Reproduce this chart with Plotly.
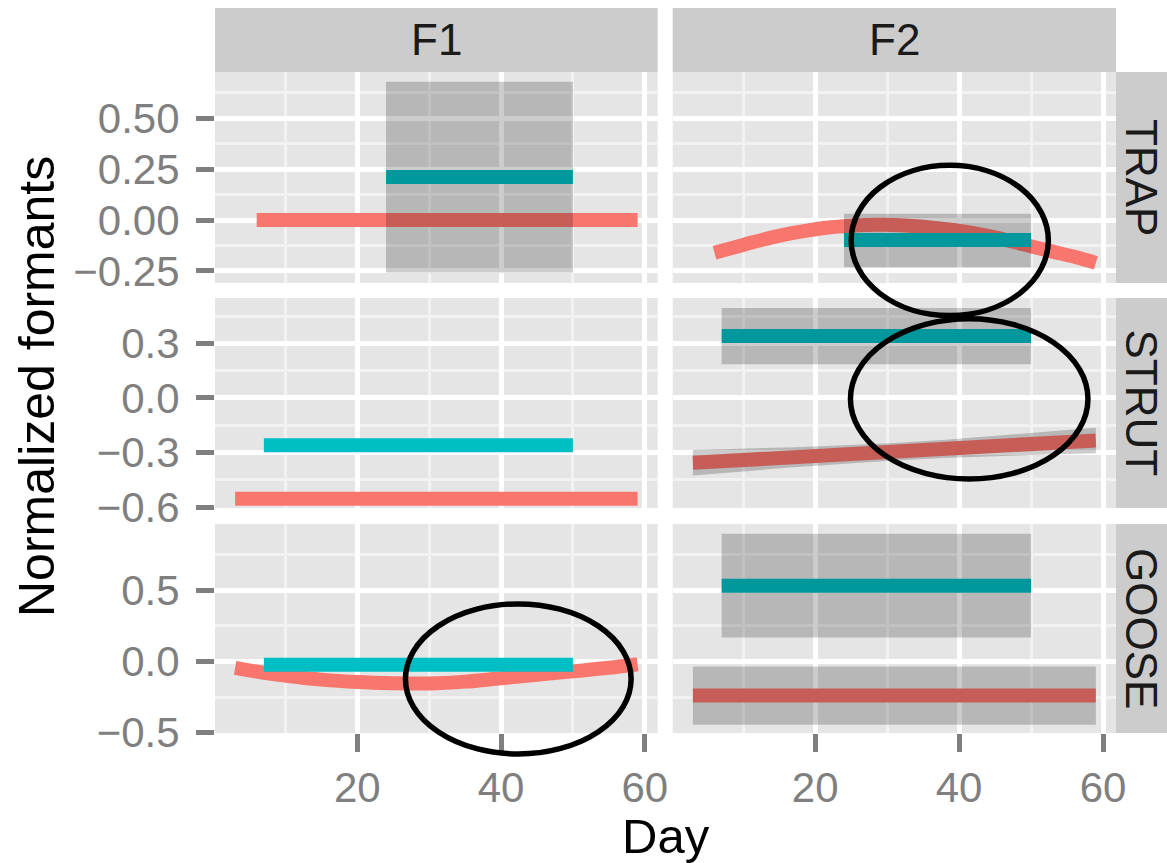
import plotly.graph_objects as go

# ---------------- data ----------------
formants = ["F1", "F2"]
vowels = ["TRAP", "STRUT", "GOOSE"]

x_range = [0.2, 61.8]
x_tickvals = [20, 40, 60]
x_ticktext = ["20", "40", "60"]
x_minor = [10, 30, 50]

trap_range = [-0.309, 0.727]
trap_tickvals = [-0.25, 0.0, 0.25, 0.5]
trap_ticktext = ["\u22120.25", "0.00", "0.25", "0.50"]
trap_minor = [-0.125, 0.125, 0.375, 0.625]

strut_range = [-0.604, 0.549]
strut_tickvals = [-0.6, -0.3, 0.0, 0.3]
strut_ticktext = ["\u22120.6", "\u22120.3", "0.0", "0.3"]
strut_minor = [-0.45, -0.15, 0.15, 0.45]

goose_range = [-0.502, 0.963]
goose_tickvals = [-0.5, 0.0, 0.5]
goose_ticktext = ["\u22120.5", "0.0", "0.5"]
goose_minor = [-0.25, 0.25, 0.75]

# red group fits
f1_trap_red_day = [6, 59]
f1_trap_red_val = [0.0, 0.0]
f2_trap_red_day = [6, 10, 14, 18, 21, 25, 29, 33, 37, 41, 45, 49, 53, 56, 59]
f2_trap_red_val = [-0.16, -0.122, -0.085, -0.057, -0.04, -0.028, -0.023, -0.028,
                   -0.04, -0.058, -0.085, -0.12, -0.155, -0.18, -0.21]
f1_strut_red_day = [3, 59]
f1_strut_red_val = [-0.553, -0.553]
f2_strut_red_day = [3, 59]
f2_strut_red_val = [-0.356, -0.233]
f1_goose_red_day = [3, 7, 10, 15, 20, 25, 30, 35, 40, 45, 50, 55, 59]
f1_goose_red_val = [-0.046, -0.08, -0.10, -0.128, -0.145, -0.153, -0.155, -0.142,
                    -0.118, -0.094, -0.07, -0.045, -0.02]
f2_goose_red_day = [3, 59]
f2_goose_red_val = [-0.24, -0.24]

# teal group fits
f1_trap_teal_day = [24, 50]
f1_trap_teal_val = [0.212, 0.212]
f2_trap_teal_day = [24, 50]
f2_trap_teal_val = [-0.098, -0.098]
f1_strut_teal_day = [7, 50]
f1_strut_teal_val = [-0.26, -0.26]
f2_strut_teal_day = [7, 50]
f2_strut_teal_val = [0.34, 0.34]
f1_goose_teal_day = [7, 50]
f1_goose_teal_val = [-0.023, -0.023]
f2_goose_teal_day = [7, 50]
f2_goose_teal_val = [0.53, 0.53]

# confidence ribbons
f1_trap_teal_band_day = [24, 50]
f1_trap_teal_band_lo = [-0.258, -0.258]
f1_trap_teal_band_hi = [0.679, 0.679]
f2_trap_teal_band_day = [24, 50]
f2_trap_teal_band_lo = [-0.232, -0.232]
f2_trap_teal_band_hi = [0.031, 0.031]
f2_strut_teal_band_day = [7, 50]
f2_strut_teal_band_lo = [0.185, 0.185]
f2_strut_teal_band_hi = [0.494, 0.494]
f2_strut_red_band_day = [3, 10, 17, 24, 31, 38, 45, 52, 59]
f2_strut_red_band_lo = [-0.426, -0.403, -0.380, -0.360, -0.343, -0.329, -0.319, -0.310, -0.303]
f2_strut_red_band_hi = [-0.286, -0.279, -0.270, -0.260, -0.247, -0.229, -0.209, -0.186, -0.163]
f2_goose_teal_band_day = [7, 50]
f2_goose_teal_band_lo = [0.168, 0.168]
f2_goose_teal_band_hi = [0.895, 0.895]
f2_goose_red_band_day = [3, 59]
f2_goose_red_band_lo = [-0.444, -0.444]
f2_goose_red_band_hi = [-0.035, -0.035]

# highlight ellipses: (formant, vowel, centre day, centre value, radius days, radius value)
ellipse_panel = [("F2", "TRAP"), ("F2", "STRUT"), ("F1", "GOOSE")]
ellipse_center_day = [38.7, 41.4, 42.4]
ellipse_center_val = [-0.100, -0.005, -0.123]
ellipse_radius_day = [13.7, 16.5, 15.7]
ellipse_radius_val = [0.369, 0.44, 0.526]

# ---------------- styling / layout ----------------
RED = "#F8766D"
TEAL = "#00BFC4"
RIBBON = "rgba(0,0,0,0.2)"
PANEL_BG = "#E5E5E5"
STRIP_BG = "#CCCCCC"
GRID_MAJOR = "#FFFFFF"
GRID_MINOR = "#F2F2F2"
AXIS_GREY = "#7F7F7F"
FONT = "Liberation Sans, Arial, Helvetica, sans-serif"

W, H = 1167, 863
ML, MR, MT, MB = 215, 51, 8, 130
PW = W - ML - MR
PH = H - MT - MB


def px_x(p):
    return (p - ML) / PW


def px_y(p):
    return (H - MB - p) / PH


col_px = {"F1": (215, 657.7), "F2": (672.7, 1116)}
row_px = {"TRAP": (72, 283), "STRUT": (298, 508), "GOOSE": (524, 733)}
strip_top_px = (8, 72)
strip_right_px = (1116, 1167)

xdom = {f: [px_x(a), px_x(b)] for f, (a, b) in col_px.items()}
ydom = {v: [px_y(b), px_y(a)] for v, (a, b) in row_px.items()}

yinfo = {
    "TRAP": (trap_range, trap_tickvals, trap_ticktext, trap_minor),
    "STRUT": (strut_range, strut_tickvals, strut_ticktext, strut_minor),
    "GOOSE": (goose_range, goose_tickvals, goose_ticktext, goose_minor),
}

panel_id = {}
n = 1
for v in vowels:
    for f in formants:
        panel_id[(f, v)] = n
        n += 1

red_lines = {
    ("F1", "TRAP"): (f1_trap_red_day, f1_trap_red_val),
    ("F2", "TRAP"): (f2_trap_red_day, f2_trap_red_val),
    ("F1", "STRUT"): (f1_strut_red_day, f1_strut_red_val),
    ("F2", "STRUT"): (f2_strut_red_day, f2_strut_red_val),
    ("F1", "GOOSE"): (f1_goose_red_day, f1_goose_red_val),
    ("F2", "GOOSE"): (f2_goose_red_day, f2_goose_red_val),
}
teal_lines = {
    ("F1", "TRAP"): (f1_trap_teal_day, f1_trap_teal_val),
    ("F2", "TRAP"): (f2_trap_teal_day, f2_trap_teal_val),
    ("F1", "STRUT"): (f1_strut_teal_day, f1_strut_teal_val),
    ("F2", "STRUT"): (f2_strut_teal_day, f2_strut_teal_val),
    ("F1", "GOOSE"): (f1_goose_teal_day, f1_goose_teal_val),
    ("F2", "GOOSE"): (f2_goose_teal_day, f2_goose_teal_val),
}
bands = [
    (("F1", "TRAP"), f1_trap_teal_band_day, f1_trap_teal_band_lo, f1_trap_teal_band_hi),
    (("F2", "TRAP"), f2_trap_teal_band_day, f2_trap_teal_band_lo, f2_trap_teal_band_hi),
    (("F2", "STRUT"), f2_strut_teal_band_day, f2_strut_teal_band_lo, f2_strut_teal_band_hi),
    (("F2", "STRUT"), f2_strut_red_band_day, f2_strut_red_band_lo, f2_strut_red_band_hi),
    (("F2", "GOOSE"), f2_goose_teal_band_day, f2_goose_teal_band_lo, f2_goose_teal_band_hi),
    (("F2", "GOOSE"), f2_goose_red_band_day, f2_goose_red_band_lo, f2_goose_red_band_hi),
]

fig = go.Figure()
LW = 14


def axis_names(key):
    k = panel_id[key]
    s = "" if k == 1 else str(k)
    return "x" + s, "y" + s


for key in panel_id:
    xa, ya = axis_names(key)
    d, val = red_lines[key]
    fig.add_trace(go.Scatter(x=d, y=val, mode="lines", line=dict(color=RED, width=LW, shape="spline" if len(d) > 2 else "linear"),
                             xaxis=xa, yaxis=ya, showlegend=False, hoverinfo="skip"))
for key in panel_id:
    xa, ya = axis_names(key)
    d, val = teal_lines[key]
    fig.add_trace(go.Scatter(x=d, y=val, mode="lines", line=dict(color=TEAL, width=LW),
                             xaxis=xa, yaxis=ya, showlegend=False, hoverinfo="skip"))
for key, d, lo, hi in bands:
    xa, ya = axis_names(key)
    fig.add_trace(go.Scatter(x=list(d) + list(d)[::-1], y=list(hi) + list(lo)[::-1], mode="lines",
                             fill="toself", fillcolor=RIBBON, line=dict(width=0),
                             xaxis=xa, yaxis=ya, showlegend=False, hoverinfo="skip"))

layout = dict(
    width=W, height=H,
    margin=dict(l=ML, r=MR, t=MT, b=MB, pad=0),
    paper_bgcolor="white", plot_bgcolor=PANEL_BG,
    font=dict(family=FONT, color="black"),
    showlegend=False,
)

for (f, v), k in panel_id.items():
    s = "" if k == 1 else str(k)
    bottom = v == vowels[-1]
    left = f == formants[0]
    yr, ytv, ytt, ymin = yinfo[v]
    layout["xaxis" + s] = dict(
        domain=xdom[f], range=x_range, anchor="y" + s,
        tickmode="array", tickvals=x_tickvals, ticktext=x_ticktext,
        showgrid=True, gridcolor=GRID_MAJOR, gridwidth=4.5,
        minor=dict(tickmode="array", tickvals=x_minor, showgrid=True, gridcolor=GRID_MINOR, gridwidth=2.5, ticks=""),
        zeroline=False, showline=False,
        ticks="outside" if bottom else "", ticklen=18, tickwidth=4.5, tickcolor=AXIS_GREY,
        showticklabels=bottom, tickfont=dict(size=42, color=AXIS_GREY, family=FONT),
        fixedrange=True,
    )
    layout["yaxis" + s] = dict(
        domain=ydom[v], range=yr, anchor="x" + s,
        tickmode="array", tickvals=ytv, ticktext=ytt,
        showgrid=True, gridcolor=GRID_MAJOR, gridwidth=4.5,
        minor=dict(tickmode="array", tickvals=ymin, showgrid=True, gridcolor=GRID_MINOR, gridwidth=2.5, ticks=""),
        zeroline=False, showline=False,
        ticks="outside" if left else "", ticklen=18, tickwidth=4.5, tickcolor=AXIS_GREY,
        showticklabels=left, tickfont=dict(size=42, color=AXIS_GREY, family=FONT),
        ticklabelstandoff=8,
        fixedrange=True,
    )

shapes = []
annotations = []
# top strips
for f in formants:
    shapes.append(dict(type="rect", xref="paper", yref="paper", x0=xdom[f][0], x1=xdom[f][1],
                       y0=px_y(strip_top_px[1]), y1=px_y(strip_top_px[0]),
                       fillcolor=STRIP_BG, line=dict(width=0), layer="below"))
    annotations.append(dict(text=f, xref="paper", yref="paper", x=(xdom[f][0] + xdom[f][1]) / 2,
                            y=(px_y(strip_top_px[1]) + px_y(strip_top_px[0])) / 2,
                            xanchor="center", yanchor="middle", showarrow=False,
                            font=dict(size=44, color="#1A1A1A", family=FONT)))
# right strips
for v in vowels:
    shapes.append(dict(type="rect", xref="paper", yref="paper", x0=px_x(strip_right_px[0]), x1=px_x(strip_right_px[1]),
                       y0=ydom[v][0], y1=ydom[v][1],
                       fillcolor=STRIP_BG, line=dict(width=0), layer="below"))
    annotations.append(dict(text=v, xref="paper", yref="paper",
                            x=(px_x(strip_right_px[0]) + px_x(strip_right_px[1])) / 2,
                            y=(ydom[v][0] + ydom[v][1]) / 2, textangle=90,
                            xanchor="center", yanchor="middle", showarrow=False,
                            font=dict(size=44, color="#1A1A1A", family=FONT)))

# ellipses, converted from panel data coordinates to paper coordinates
for (f, v), cx, cy, rx, ry in zip(ellipse_panel, ellipse_center_day, ellipse_center_val,
                                  ellipse_radius_day, ellipse_radius_val):
    yr = yinfo[v][0]

    def tx(x, f=f):
        return xdom[f][0] + (x - x_range[0]) / (x_range[1] - x_range[0]) * (xdom[f][1] - xdom[f][0])

    def ty(y, v=v, yr=yr):
        return ydom[v][0] + (y - yr[0]) / (yr[1] - yr[0]) * (ydom[v][1] - ydom[v][0])

    shapes.append(dict(type="circle", xref="paper", yref="paper",
                       x0=tx(cx - rx), x1=tx(cx + rx), y0=ty(cy - ry), y1=ty(cy + ry),
                       line=dict(color="black", width=5.5), fillcolor="rgba(0,0,0,0)", layer="above"))

# axis titles
annotations.append(dict(text="Day", xref="paper", yref="paper", x=px_x(666), y=px_y(836),
                        xanchor="center", yanchor="middle", showarrow=False,
                        font=dict(size=49, color="black", family=FONT)))
annotations.append(dict(text="Normalized formants", xref="paper", yref="paper", x=px_x(37), y=px_y(387),
                        xanchor="center", yanchor="middle", showarrow=False, textangle=-90,
                        font=dict(size=50, color="black", family=FONT)))

layout["shapes"] = shapes
layout["annotations"] = annotations
fig.update_layout(**layout)
fig.write_html("out.html")
